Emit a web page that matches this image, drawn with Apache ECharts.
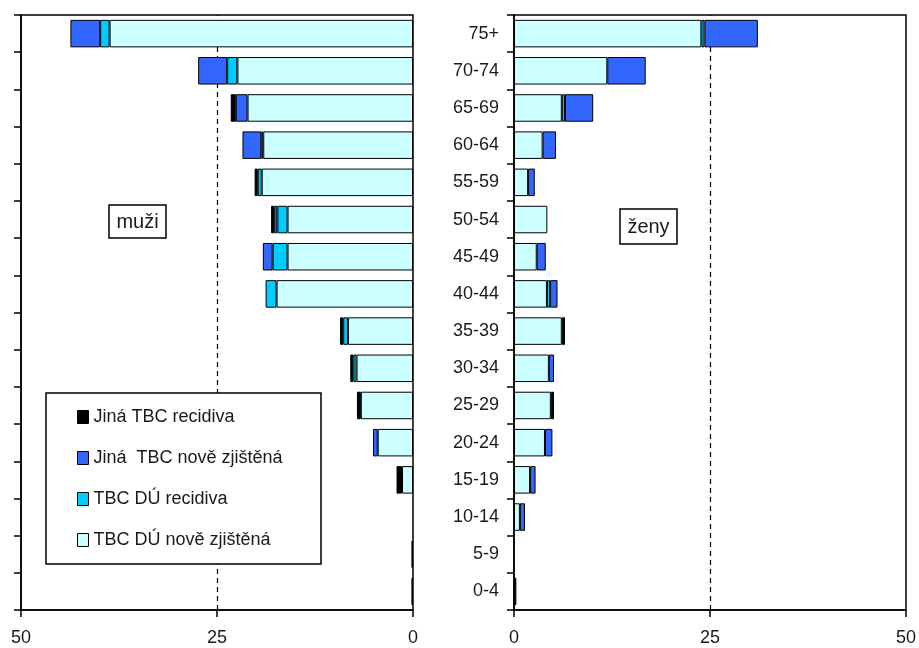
<!DOCTYPE html>
<html>
<head>
<meta charset="utf-8">
<script src="https://cdn.jsdelivr.net/npm/echarts@6/dist/echarts.min.js"></script>
<style>
  html, body { margin: 0; padding: 0; background: #fff; }
  #chart { width: 919px; height: 648px; }
</style>
</head>
<body>
<div id="chart"></div>
<script>
// Age groups, listed from the bottom row upward
const ageGroups = ['0-4', '5-9', '10-14', '15-19', '20-24', '25-29', '30-34', '35-39',
  '40-44', '45-49', '50-54', '55-59', '60-64', '65-69', '70-74', '75+'];

const seriesNames = ['TBC DÚ nově zjištěná', 'TBC DÚ recidiva', 'Jiná  TBC nově zjištěná', 'Jiná TBC recidiva'];
const legendOrder = ['Jiná TBC recidiva', 'Jiná  TBC nově zjištěná', 'TBC DÚ recidiva', 'TBC DÚ nově zjištěná'];

// muži
const menDuNew   = [0, 0, 0, 1.4, 4.5, 6.65, 7.2, 8.3, 17.4, 16.0, 16.0, 19.3, 19.1, 21.1, 22.4, 38.7];
const menDuRel   = [0, 0, 0, 0, 0, 0, 0.4, 0.6, 1.4, 1.9, 1.3, 0.5, 0.25, 0, 1.3, 1.2];
const menOthNew  = [0, 0, 0, 0, 0.6, 0, 0, 0, 0, 1.25, 0.4, 0, 2.4, 1.5, 3.7, 3.8];
const menOthRel  = [0.2, 0.2, 0, 0.7, 0, 0.5, 0.4, 0.4, 0, 0, 0.4, 0.4, 0, 0.65, 0, 0];

// ženy
const womenDuNew  = [0, 0, 0.75, 2.05, 3.95, 4.7, 4.45, 6.1, 4.2, 2.9, 4.25, 1.8, 3.65, 6.1, 11.9, 23.9];
const womenDuRel  = [0, 0, 0, 0, 0, 0, 0, 0, 0.4, 0, 0, 0, 0, 0.4, 0, 0.4];
const womenOthNew = [0, 0, 0.65, 0.7, 0.95, 0, 0.65, 0, 0.95, 1.15, 0, 0.85, 1.7, 3.6, 4.9, 6.8];
const womenOthRel = [0.3, 0, 0, 0, 0, 0.4, 0, 0.4, 0, 0, 0, 0, 0, 0, 0, 0];

const xTicks = [0, 25, 50];
const refLine = 25;

const colors = ['#CCFFFF', '#00CCFF', '#3366FF', '#000000'];
const FONT = 'Liberation Sans, Arial, sans-serif';
const TEXT = '#1a1a1a';
const LINE_W = 1.5;

const noZero = arr => arr.map(v => (v === 0 ? null : v));

function panelSeries(idx, stackName, sets) {
  return sets.map((vals, i) => ({
    name: seriesNames[i],
    type: 'bar',
    stack: stackName,
    xAxisIndex: idx,
    yAxisIndex: idx,
    barCategoryGap: '26%',
    z: 2,
    data: noZero(vals),
    itemStyle: { color: colors[i], borderColor: '#000', borderWidth: 1 },
    emphasis: { disabled: true }
  }));
}

// dashed reference line at 25, kept beneath the bars
function refLineSeries(idx) {
  return {
    type: 'line',
    xAxisIndex: idx,
    yAxisIndex: idx,
    data: [],
    z: 1,
    silent: true,
    markLine: {
      z: 1,
      silent: true,
      symbol: 'none',
      label: { show: false },
      lineStyle: { color: '#000', type: [5, 4], width: 1.2 },
      data: [{ xAxis: refLine }]
    }
  };
}

function xAxisFor(idx, inverse) {
  return {
    type: 'value',
    gridIndex: idx,
    inverse: inverse,
    min: xTicks[0],
    max: xTicks[xTicks.length - 1],
    interval: 25,
    position: 'bottom',
    axisLine: { show: true, onZero: false, lineStyle: { color: '#000', width: LINE_W } },
    axisTick: { show: true, inside: false, length: 7, lineStyle: { color: '#000', width: LINE_W } },
    axisLabel: { color: TEXT, fontFamily: FONT, fontSize: 18, margin: 19 },
    splitLine: { show: false }
  };
}

function yAxisFor(idx, showLabels) {
  return {
    type: 'category',
    gridIndex: idx,
    data: ageGroups,
    position: 'left',
    axisLine: { show: true, onZero: false, lineStyle: { color: '#000', width: LINE_W } },
    axisTick: { show: true, inside: false, length: 7, lineStyle: { color: '#000', width: LINE_W } },
    axisLabel: { show: showLabels, color: TEXT, fontFamily: FONT, fontSize: 18, margin: 15 },
    splitLine: { show: false }
  };
}

const chart = echarts.init(document.getElementById('chart'), null, { renderer: 'canvas' });

chart.setOption({
  backgroundColor: '#fff',
  animation: false,
  grid: [
    { left: 21, top: 15, width: 392, height: 595, show: true, borderColor: '#000', borderWidth: LINE_W, backgroundColor: 'transparent' },
    { left: 514, top: 15, width: 392, height: 595, show: true, borderColor: '#000', borderWidth: LINE_W, backgroundColor: 'transparent' }
  ],
  xAxis: [xAxisFor(0, true), xAxisFor(1, false)],
  yAxis: [yAxisFor(0, false), yAxisFor(1, true)],
  legend: {
    data: legendOrder,
    orient: 'vertical',
    left: 72,
    top: 403,
    itemGap: 23,
    itemWidth: 11,
    itemHeight: 13,
    icon: 'rect',
    itemStyle: { borderColor: '#000', borderWidth: 1 },
    textStyle: { color: TEXT, fontFamily: FONT, fontSize: 18 },
    selectedMode: false,
    z: 10
  },
  graphic: [
    { type: 'rect', z: 5, shape: { x: 46, y: 393, width: 275, height: 171 },
      style: { fill: '#fff', stroke: '#000', lineWidth: LINE_W } },
    { type: 'rect', z: 5, shape: { x: 109, y: 205, width: 57, height: 33 },
      style: { fill: '#fff', stroke: '#000', lineWidth: LINE_W } },
    { type: 'text', z: 6, x: 137.5, y: 222,
      style: { text: 'muži', fill: TEXT, font: '20px ' + FONT, textAlign: 'center', textVerticalAlign: 'middle' } },
    { type: 'rect', z: 5, shape: { x: 620, y: 209, width: 57, height: 35 },
      style: { fill: '#fff', stroke: '#000', lineWidth: LINE_W } },
    { type: 'text', z: 6, x: 648.5, y: 227,
      style: { text: 'ženy', fill: TEXT, font: '20px ' + FONT, textAlign: 'center', textVerticalAlign: 'middle' } }
  ],
  series: [
    refLineSeries(0),
    refLineSeries(1),
    ...panelSeries(0, 'muzi', [menDuNew, menDuRel, menOthNew, menOthRel]),
    ...panelSeries(1, 'zeny', [womenDuNew, womenDuRel, womenOthNew, womenOthRel])
  ]
});
</script>
</body>
</html>
